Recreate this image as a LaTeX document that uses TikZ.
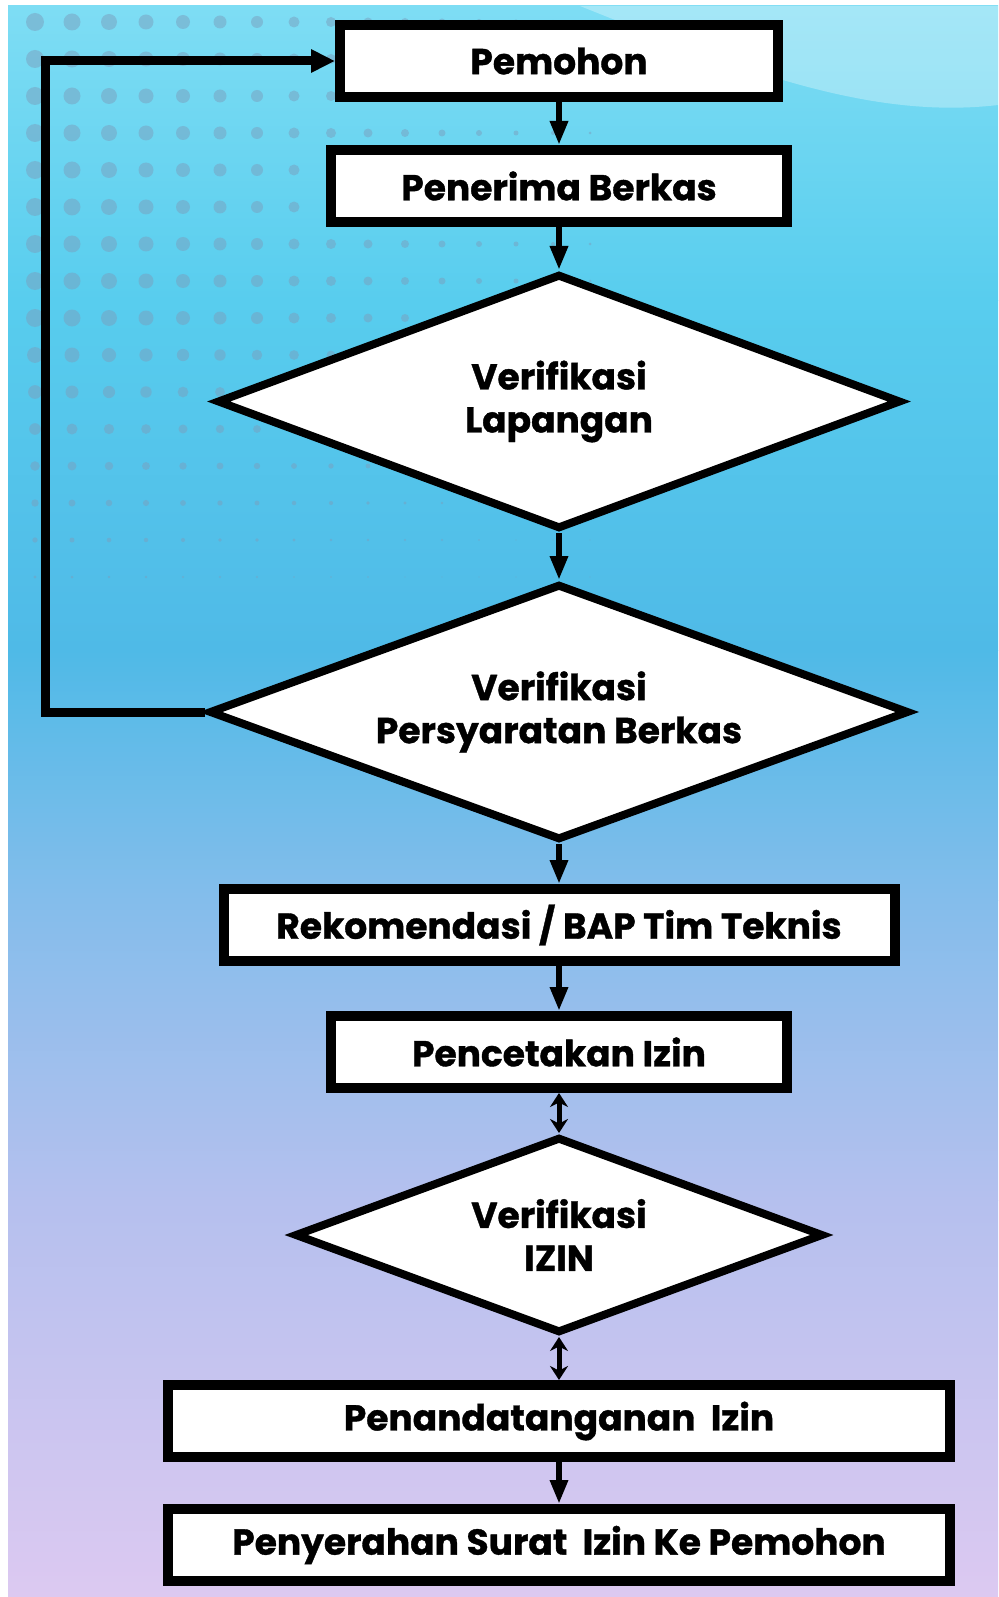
\documentclass[tikz,border=0pt]{standalone}
\usepackage{fontspec}
\setmainfont{Poppins}[BoldFeatures={FakeBold=1}]
\usepackage{xcolor}
\usetikzlibrary{positioning, arrows.meta, shapes.geometric}

\definecolor{bgtop}{HTML}{7EDDF4}
\definecolor{bgcyan}{HTML}{58CDEE}
\definecolor{bgblue}{HTML}{4FBAE7}
\definecolor{bgsky}{HTML}{84BDEB}
\definecolor{bglav}{HTML}{B5C0EE}
\definecolor{bgpink}{HTML}{DCC9F1}
\definecolor{dotc}{HTML}{7A9FBE}

\begin{document}
\begin{tikzpicture}[x=1pt, y=1pt, node distance=45pt,
  box/.style={draw, line width=10pt, fill=white, minimum height=72pt, inner sep=0pt,
    font=\fontsize{36}{43}\selectfont\bfseries},
  choice/.style={diamond, draw, line width=8pt, fill=white, inner sep=0pt, aspect=2.8,
    align=center, font=\fontsize{36}{43}\selectfont\bfseries},
  flow/.style={-{Triangle[length=24pt, width=17pt]}, line width=6pt},
  both/.style={{Stealth[length=14pt, width=18pt]}-{Stealth[length=14pt, width=18pt]}, line width=5pt},
  back/.style={-{Triangle[length=24pt, width=22pt]}, line width=9pt}]

  % background
  \useasboundingbox (0,0) rectangle (998,-1597);
  \fill[white] (0,0) rectangle (998,-1597);
  \shade[top color=bgtop, bottom color=bgcyan] (8,-6) rectangle (998,-300);
  \shade[top color=bgcyan, bottom color=bgblue] (8,-300) rectangle (998,-650);
  \shade[top color=bgblue, bottom color=bgsky] (8,-650) rectangle (998,-900);
  \shade[top color=bgsky, bottom color=bglav] (8,-900) rectangle (998,-1200);
  \shade[top color=bglav, bottom color=bgpink] (8,-1200) rectangle (998,-1597);
  \fill[white, opacity=0.3] (580,-6) .. controls (740,-70) and (870,-120) .. (998,-105)
    -- (998,-6) -- cycle;
  \foreach \i in {0,...,15}
    \foreach \j in {0,...,15}
      \fill[dotc, opacity=0.5] (35+37*\i,-22-37*\j)
        circle ({max(0.6, 9*(1-\i/18)*(1-max(0,\j-8)/8.5))});

  % flow
  \node[box, minimum width=438pt] (P) at (559,-61) {Pemohon};
  \node[box, minimum width=456pt] (PB) [below=43pt of P] {Penerima Berkas};
  \node[choice, minimum width=684pt, minimum height=255pt] (VL) [below=43pt of PB]
    {Verifikasi\\Lapangan};
  \node[choice, minimum width=700pt, minimum height=256pt] (VP) [below=47pt of VL]
    {Verifikasi\\Persyaratan Berkas};
  \node[box, minimum width=671pt] (R) [below=40pt of VP] {Rekomendasi / BAP Tim Teknis};
  \node[box, minimum width=456pt] (C) [below=of R] {Pencetakan Izin};
  \node[choice, minimum width=529pt, minimum height=196pt] (VI) [below=40pt of C]
    {Verifikasi\\IZIN};
  \node[box, minimum width=782pt] (T) [below=43pt of VI] {Penandatanganan\ \ Izin};
  \node[box, minimum width=782pt] (S) [below=42pt of T]
    {Penyerahan Surat\ \ Izin Ke Pemohon};
  \coordinate (ret) at (45,-400);

  \draw[flow] (P) -- (PB);
  \draw[flow] (PB) -- (VL);
  \draw[flow] (VL) -- (VP);
  \draw[flow] (VP) -- (R);
  \draw[flow] (R) -- (C);
  \draw[both] (C) -- (VI);
  \draw[both] (VI) -- (T);
  \draw[flow] (T) -- (S);
  \draw[back] (VP.west) -| (ret) |- (P.west);
\end{tikzpicture}
\end{document}
